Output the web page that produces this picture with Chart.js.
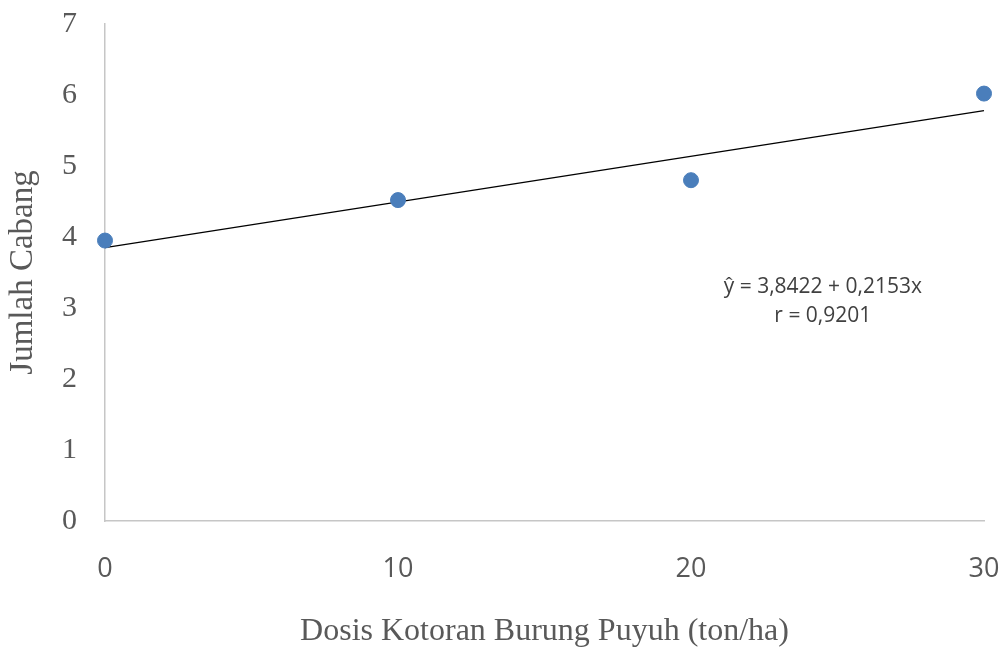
<!DOCTYPE html>
<html>
<head>
<meta charset="utf-8">
<script src="https://cdn.jsdelivr.net/npm/chart.js@4/dist/chart.umd.min.js"></script>
<style>
html,body{margin:0;padding:0;background:#fff;}
#wrap{width:1006px;height:648px;}
</style>
</head>
<body>
<div id="wrap"><canvas id="c" width="1006" height="648"></canvas></div>
<script>
const doses = [0, 10, 20, 30];
const branches = [3.95, 4.52, 4.80, 6.02];
const trendX = [0, 30];
const trendY = [3.85, 5.78];
const xTicks = [0, 10, 20, 30];
const yTicks = [0, 1, 2, 3, 4, 5, 6, 7];
const xTitle = 'Dosis Kotoran Burung Puyuh (ton/ha)';
const yTitle = 'Jumlah Cabang';
const eqLines = ['ŷ = 3,8422 + 0,2153x', 'r = 0,9201'];
const eqPos = {x: 24.5, y: 3.3};

const annot = {
  id: 'annot',
  afterDatasetsDraw(chart) {
    const ctx = chart.ctx;
    const xs = chart.scales.x, ys = chart.scales.y;
    const px = xs.getPixelForValue(eqPos.x);
    const py = ys.getPixelForValue(eqPos.y);
    ctx.save();
    ctx.font = '21px "Open Sans"';
    ctx.fillStyle = '#404040';
    ctx.textAlign = 'center';
    ctx.textBaseline = 'middle';
    eqLines.forEach((t, i) => ctx.fillText(t, px, py + i * 29));
    ctx.restore();
  }
};

new Chart(document.getElementById('c'), {
  type: 'scatter',
  data: {
    datasets: [
      {
        label: 'Jumlah Cabang',
        data: doses.map((d, i) => ({x: d, y: branches[i]})),
        backgroundColor: '#4a7ebb',
        borderColor: '#4a7ebb',
        pointRadius: 7.5,
        pointHoverRadius: 7.5,
        clip: false,
        order: 1
      },
      {
        type: 'line',
        label: 'Trend',
        data: trendX.map((d, i) => ({x: d, y: trendY[i]})),
        borderColor: '#000000',
        borderWidth: 1.3,
        pointRadius: 0,
        fill: false,
        clip: false,
        order: 2
      }
    ]
  },
  options: {
    responsive: false,
    animation: false,
    events: [],
    layout: {padding: {left: 0, right: 22, top: 24, bottom: 0}},
    plugins: {legend: {display: false}, tooltip: {enabled: false}},
    scales: {
      x: {
        type: 'linear',
        min: 0, max: 30,
        afterBuildTicks: s => { s.ticks = xTicks.map(v => ({value: v})); },
        afterFit: s => { s.height = 127; s.paddingLeft = 0; s.paddingRight = 0; },
        grid: {display: false, drawTicks: false},
        border: {display: true, color: '#c6c6c6', width: 1.5},
        ticks: {
          padding: 32,
          color: '#595959',
          font: {family: '"Open Sans"', size: 27},
          maxRotation: 0,
          callback: v => String(v)
        },
        title: {
          display: true, text: xTitle, color: '#595959',
          font: {family: '"Liberation Serif"', size: 32},
          padding: {top: 0, bottom: -3}
        }
      },
      y: {
        min: 0, max: 7,
        afterBuildTicks: s => { s.ticks = yTicks.map(v => ({value: v})); },
        afterFit: s => { s.width = 105; s.paddingTop = 0; s.paddingBottom = 0; },
        grid: {display: false, drawTicks: false},
        border: {display: true, color: '#c6c6c6', width: 1.5},
        ticks: {
          padding: 28,
          color: '#595959',
          font: {family: '"Liberation Serif"', size: 30},
          callback: v => String(v)
        },
        title: {
          display: true, text: yTitle, color: '#595959',
          font: {family: '"Liberation Serif"', size: 33},
          padding: {top: 4, bottom: 0}
        }
      }
    }
  },
  plugins: [annot]
});
</script>
</body>
</html>
